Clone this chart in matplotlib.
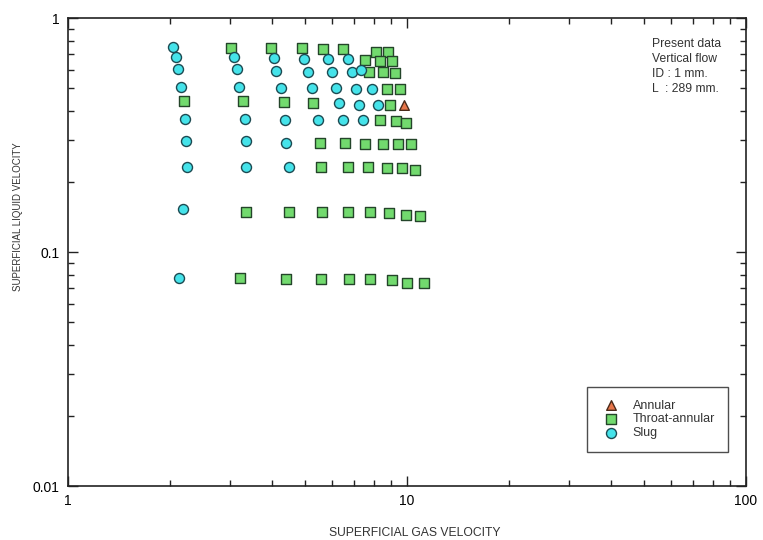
import matplotlib
matplotlib.use("Agg")
import matplotlib.pyplot as plt
from matplotlib.ticker import LogLocator, FixedLocator, NullFormatter

plt.rcParams['font.family'] = ['Liberation Sans', 'DejaVu Sans']

# ---- data ----
slug_x = [2.036, 2.083, 2.111, 2.154, 2.209, 2.229, 2.239, 2.188, 2.126,
          3.094, 3.145, 3.195, 3.328, 3.344, 3.357,
          4.052, 4.116, 4.241, 4.366, 4.396, 4.477,
          4.968, 5.094, 5.234, 5.476,
          5.837, 5.998, 6.163, 6.303, 6.463,
          6.686, 6.870, 7.073, 7.234, 7.433,
          7.302, 7.870, 8.197]
slug_y = [0.750, 0.679, 0.605, 0.509, 0.369, 0.298, 0.2315, 0.1527, 0.0772,
          0.679, 0.605, 0.506, 0.369, 0.298, 0.2315,
          0.675, 0.594, 0.504, 0.366, 0.291, 0.2315,
          0.668, 0.590, 0.501, 0.366,
          0.666, 0.590, 0.501, 0.435, 0.366,
          0.666, 0.590, 0.499, 0.425, 0.366,
          0.599, 0.497, 0.425]

throat_x = [2.203,
            3.025, 3.283, 3.350, 3.223,
            3.962, 4.328, 4.477, 4.386,
            4.891, 5.291, 5.540, 5.578, 5.604, 5.566,
            5.665, 6.565, 6.714, 6.714, 6.745,
            6.463, 7.518, 7.689, 7.780, 7.780,
            8.087, 7.503, 7.742, 8.326, 8.514, 8.712, 8.867, 9.013,
            8.772, 8.326, 8.514, 8.712, 8.909, 9.281, 9.388, 9.647, 9.933, 10.0,
            9.050, 9.237, 9.537, 9.933, 10.25, 10.56, 10.92, 11.22]
throat_y = [0.441,
            0.742, 0.441, 0.1487, 0.0772,
            0.742, 0.438, 0.1487, 0.0767,
            0.742, 0.435, 0.291, 0.230, 0.1487, 0.0767,
            0.737, 0.291, 0.230, 0.1487, 0.0767,
            0.735, 0.289, 0.230, 0.1487, 0.0764,
            0.713, 0.662, 0.586, 0.366, 0.289, 0.2286, 0.1464, 0.0759,
            0.713, 0.657, 0.586, 0.496, 0.425, 0.362, 0.289, 0.2286, 0.1439, 0.0739,
            0.657, 0.584, 0.496, 0.357, 0.289, 0.224, 0.1429, 0.0735]

annular_x = [9.799]
annular_y = [0.425]

x_ticks = [1, 10, 100]
x_ticklabels = ["1", "10", "100"]
y_ticks = [0.01, 0.1, 1]
y_ticklabels = ["0.01", "0.1", "1"]

note_lines = ["Present data", "Vertical flow", "ID : 1 mm.", "L  : 289 mm."]

# ---- figure ----
fig = plt.figure(figsize=(7.63, 5.40), dpi=100)
ax = fig.add_axes([68/763, 1-486/540, (746-68)/763, (486-18)/540])

ax.set_xscale('log')
ax.set_yscale('log')
ax.set_xlim(1, 100)
ax.set_ylim(0.01, 1)

ax.scatter(annular_x, annular_y, marker='^', s=48, facecolor='#E8764A',
           edgecolor='#4a2a1a', linewidth=1.0, label='Annular', zorder=3)
ax.scatter(throat_x, throat_y, marker='s', s=42, facecolor='#72DA6E',
           edgecolor='#24452a', linewidth=1.0, label='Throat-annular', zorder=3)
ax.scatter(slug_x, slug_y, marker='o', s=52, facecolor='#45E3EA',
           edgecolor='#1c4a52', linewidth=1.0, label='Slug', zorder=3)

ax.xaxis.set_major_locator(FixedLocator(x_ticks))
ax.set_xticklabels(x_ticklabels)
ax.yaxis.set_major_locator(FixedLocator(y_ticks))
ax.set_yticklabels(y_ticklabels)
ax.xaxis.set_minor_locator(LogLocator(base=10, subs=range(2, 10)))
ax.yaxis.set_minor_locator(LogLocator(base=10, subs=range(2, 10)))
ax.xaxis.set_minor_formatter(NullFormatter())
ax.yaxis.set_minor_formatter(NullFormatter())

ax.tick_params(which='both', direction='in', top=True, right=True,
               labelsize=10, color='#222222', width=1.0)
ax.tick_params(which='major', length=7, pad=6)
ax.tick_params(which='minor', length=4)
for sp in ax.spines.values():
    sp.set_linewidth(1.2)
    sp.set_color('#222222')

ax.set_xlabel('SUPERFICIAL GAS VELOCITY', fontsize=8.7, color='#333333')
ax.xaxis.set_label_coords((415-68)/678, (486-527)/468)
ax.set_ylabel('SUPERFICIAL LIQUID VELOCITY', fontsize=7.0, color='#333333')
ax.yaxis.set_label_coords((23-68)/678, (486-217)/468)

ax.text(0.861, 0.957, "\n".join(note_lines), transform=ax.transAxes,
        fontsize=8.7, va='top', ha='left', linespacing=1.33, color='#333333')

leg = ax.legend(loc='lower right', bbox_to_anchor=(0.973, 0.073), fontsize=9,
                frameon=True, fancybox=False, edgecolor='#222222',
                handletextpad=0.8, borderpad=1.0, labelspacing=0.15,
                handlelength=1.9, borderaxespad=0.0, markerscale=1.0)
leg.get_frame().set_linewidth(1.0)
for t in leg.get_texts():
    t.set_color('#333333')

fig.savefig('out.png', dpi=100)
